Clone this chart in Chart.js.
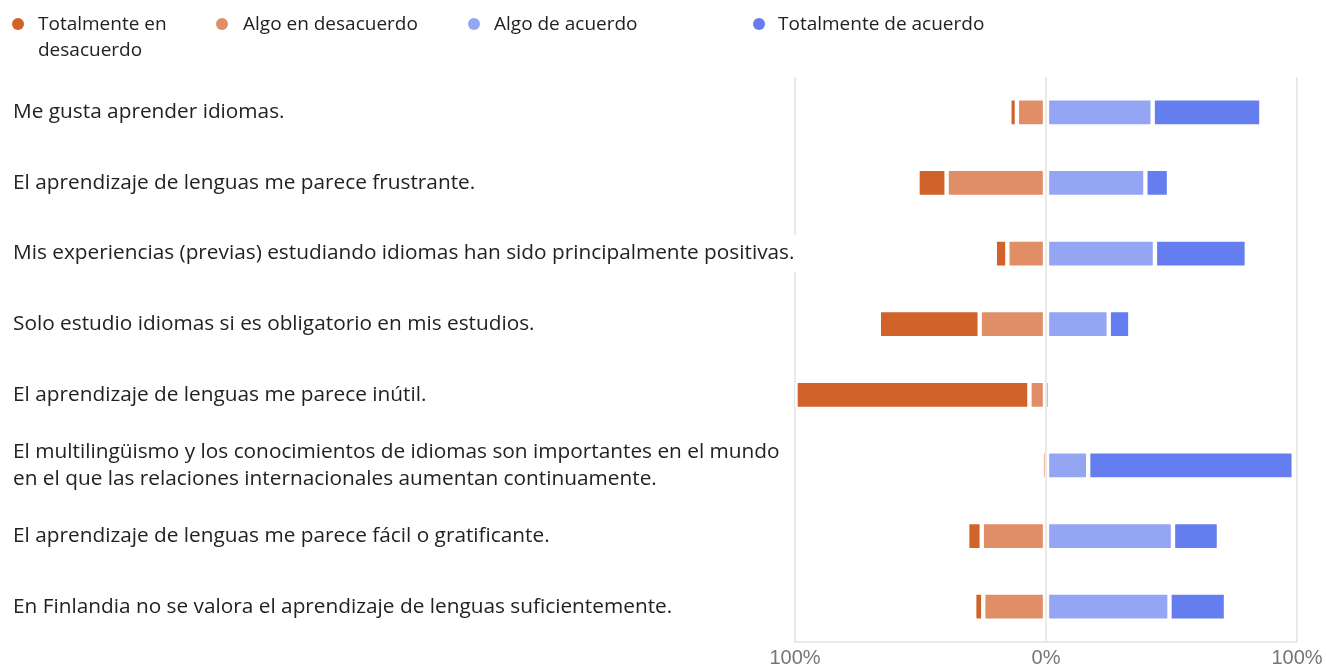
<!DOCTYPE html>
<html>
<head>
<meta charset="utf-8">
<script src="https://cdn.jsdelivr.net/npm/chart.js@4.4.1/dist/chart.umd.min.js"></script>
<style>
  html, body { margin: 0; padding: 0; background: #fff; }
  #wrap { position: relative; width: 1326px; height: 669px; }
</style>
</head>
<body>
<div id="wrap"><canvas id="c"></canvas></div>
<script>
// ---- data (percent of respondents) ----
const categories = [
  "Me gusta aprender idiomas.",
  "El aprendizaje de lenguas me parece frustrante.",
  "Mis experiencias (previas) estudiando idiomas han sido principalmente positivas.",
  "Solo estudio idiomas si es obligatorio en mis estudios.",
  "El aprendizaje de lenguas me parece inútil.",
  ["El multilingüismo y los conocimientos de idiomas son importantes en el mundo", "en el que las relaciones internacionales aumentan continuamente."],
  "El aprendizaje de lenguas me parece fácil o gratificante.",
  "En Finlandia no se valora el aprendizaje de lenguas suficientemente."
];
const seriesNames = ["Totalmente en desacuerdo", "Algo en desacuerdo", "Algo de acuerdo", "Totalmente de acuerdo"];
const totalDesacuerdo = [3.0, 11.6, 5.0, 40.2, 93.2, 0.0, 5.8, 3.6];
const algoDesacuerdo  = [11.6, 39.6, 15.4, 26.4, 6.6, 1.0, 25.6, 25.0];
const algoAcuerdo     = [42.5, 39.6, 43.4, 25.0, 0.8, 16.8, 50.6, 49.2];
const totalAcuerdo    = [43.3, 9.4, 36.6, 8.6, 0.0, 81.9, 18.3, 22.5];
const tickValues = [-100, 0, 100];
const colors = ["#d0632a", "#e08e65", "#94a5f3", "#647ef0"];

const LABEL_SIZE = 20.8;
const LABEL_FONT = LABEL_SIZE + 'px "Open Sans"';

// custom legend (positions match the reference layout)
const legendItems = [
  { lines: ["Totalmente en", "desacuerdo"], color: colors[0], dotX: 18, textX: 38 },
  { lines: ["Algo en desacuerdo"], color: colors[1], dotX: 222, textX: 243 },
  { lines: ["Algo de acuerdo"], color: colors[2], dotX: 474, textX: 494 },
  { lines: ["Totalmente de acuerdo"], color: colors[3], dotX: 759, textX: 778 }
];
const legendPlugin = {
  id: 'customLegend',
  afterDraw(chart) {
    const ctx = chart.ctx;
    ctx.save();
    ctx.font = '19px "Open Sans"';
    ctx.textBaseline = 'middle';
    ctx.textAlign = 'left';
    legendItems.forEach(it => {
      ctx.fillStyle = it.color;
      ctx.beginPath();
      ctx.arc(it.dotX, 24, 6, 0, Math.PI * 2);
      ctx.fill();
      ctx.fillStyle = '#222222';
      it.lines.forEach((ln, i) => ctx.fillText(ln, it.textX, 25 + i * 26));
    });
    ctx.restore();
  }
};

// white backdrop behind y labels that overflow into the plot frame
const labelBackdrop = {
  id: 'labelBackdrop',
  beforeDatasetsDraw(chart) {
    const y = chart.scales.y, ctx = chart.ctx, area = chart.chartArea;
    ctx.save();
    ctx.font = LABEL_FONT;
    categories.forEach((lab, i) => {
      const lines = Array.isArray(lab) ? lab : [lab];
      const w = Math.max(...lines.map(l => ctx.measureText(l).width));
      const right = y.left + w + 2;
      if (right > area.left) {
        const cy = y.getPixelForTick(i);
        const h = lines.length * 27 + 10;
        ctx.fillStyle = '#ffffff';
        ctx.fillRect(area.left - 3, cy - h / 2, right - area.left + 3, h);
      }
    });
    ctx.restore();
  }
};

const neg = arr => arr.map(v => -v);
const barCommon = {
  borderColor: '#ffffff',
  borderWidth: 2.5,
  borderSkipped: false,
  borderRadius: { topLeft: 3, topRight: 3, bottomLeft: 3, bottomRight: 3 },
  barThickness: 28,
  stack: 's'
};

new Chart(document.getElementById('c'), {
  type: 'bar',
  data: {
    labels: categories,
    datasets: [
      Object.assign({ label: seriesNames[1], data: neg(algoDesacuerdo), backgroundColor: colors[1] }, barCommon),
      Object.assign({ label: seriesNames[0], data: neg(totalDesacuerdo), backgroundColor: colors[0] }, barCommon),
      Object.assign({ label: seriesNames[2], data: algoAcuerdo, backgroundColor: colors[2] }, barCommon),
      Object.assign({ label: seriesNames[3], data: totalAcuerdo, backgroundColor: colors[3] }, barCommon)
    ]
  },
  options: {
    indexAxis: 'y',
    responsive: true,
    maintainAspectRatio: false,
    animation: false,
    layout: { padding: { left: 13, right: 29, top: 77, bottom: 0 } },
    plugins: {
      legend: { display: false },
      tooltip: { enabled: false }
    },
    scales: {
      x: {
        stacked: true,
        min: -100,
        max: 100,
        afterBuildTicks: s => { s.ticks = tickValues.map(v => ({ value: v })); },
        afterFit: s => { s.height = 27; s.paddingRight = 0; s.paddingLeft = 0; },
        grid: { color: '#e9e9e9', lineWidth: 2, drawTicks: false },
        border: { display: true, color: '#e9e9e9', width: 2 },
        ticks: {
          padding: 5,
          color: '#757575',
          font: { family: '"Liberation Sans", Arial, sans-serif', size: 20, lineHeight: 1.1 },
          callback: v => Math.abs(v) + '%'
        }
      },
      y: {
        stacked: true,
        grid: { display: false },
        border: { display: false },
        afterFit: s => { s.width = 782; },
        ticks: {
          crossAlign: 'far',
          z: 1,
          color: '#222222',
          font: { family: '"Open Sans"', size: LABEL_SIZE, lineHeight: 1.3 }
        }
      }
    }
  },
  plugins: [legendPlugin, labelBackdrop]
});
</script>
</body>
</html>
